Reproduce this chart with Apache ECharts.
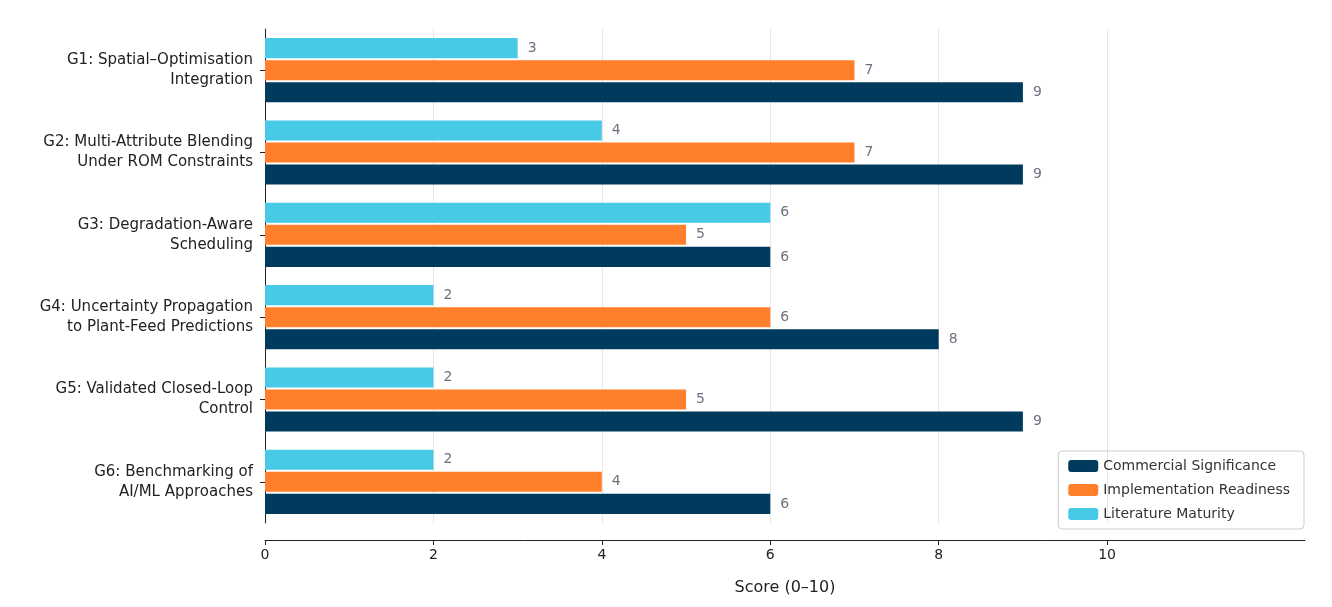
<!DOCTYPE html>
<html>
<head>
<meta charset="utf-8">
<script src="https://cdn.jsdelivr.net/npm/echarts@6/dist/echarts.min.js"></script>
<style>html,body{margin:0;padding:0;background:#fff}#chart{width:1332px;height:607px}</style>
</head>
<body>
<div id="chart"></div>
<script>
var categories = [
  'G1: Spatial–Optimisation\nIntegration',
  'G2: Multi-Attribute Blending\nUnder ROM Constraints',
  'G3: Degradation-Aware\nScheduling',
  'G4: Uncertainty Propagation\nto Plant-Feed Predictions',
  'G5: Validated Closed-Loop\nControl',
  'G6: Benchmarking of\nAI/ML Approaches'
];
var literature = [3, 4, 6, 2, 2, 2];
var implementation = [7, 7, 5, 6, 5, 4];
var commercial = [9, 9, 6, 8, 9, 6];
var gridTicks = [2, 4, 6, 8, 10];
var xTicks = [0, 2, 4, 6, 8, 10];

var chart = echarts.init(document.getElementById('chart'));
var font = 'DejaVu Sans';
function bar(name, data, color) {
  return {
    name: name, type: 'bar', data: data, barGap: '10%', barCategoryGap: '22%',
    itemStyle: { color: color },
    label: { show: true, position: 'right', distance: 10, color: '#6b7280', fontSize: 14, fontFamily: font }
  };
}
var s1 = bar('Literature Maturity', literature, '#48c9e6');
s1.markLine = {
  silent: true, symbol: 'none', label: { show: false }, z: 0,
  lineStyle: { color: '#e6e6e6', type: 'solid', width: 1 },
  data: gridTicks.map(function (v) { return { xAxis: v }; })
};
var option = {
  textStyle: { fontFamily: font },
  grid: { left: 265, right: 27, top: 29, bottom: 84 },
  legend: {
    data: ['Commercial Significance', 'Implementation Readiness', 'Literature Maturity'],
    orient: 'vertical', right: 28, bottom: 78, itemWidth: 30, itemHeight: 12, itemGap: 10,
    padding: [8, 14, 8, 10], borderColor: '#cccccc', borderWidth: 1, borderRadius: 4,
    textStyle: { fontSize: 14, color: '#333', fontFamily: font }
  },
  xAxis: {
    type: 'value', min: 0, max: 12.35, interval: 2, offset: 17,
    name: 'Score (0–10)', nameLocation: 'middle', nameGap: 40,
    nameTextStyle: { fontSize: 16, color: '#222', fontFamily: font },
    axisLine: { show: true, lineStyle: { color: '#222' } },
    axisTick: { show: true, customValues: xTicks, lineStyle: { color: '#222' } },
    splitLine: { show: false },
    axisLabel: { fontSize: 14, color: '#222', fontFamily: font, customValues: xTicks,
      formatter: function (v) { return v > 10 ? '' : v; } }
  },
  yAxis: {
    type: 'category', data: categories, inverse: true,
    axisLine: { show: true, lineStyle: { color: '#222' } },
    axisTick: { show: true, alignWithLabel: true, lineStyle: { color: '#222' } },
    axisLabel: { fontSize: 15, color: '#222', align: 'right', lineHeight: 20, margin: 12, fontFamily: font }
  },
  series: [s1, bar('Implementation Readiness', implementation, '#ff7f2a'),
           bar('Commercial Significance', commercial, '#003a5d')]
};
chart.setOption(option);
</script>
</body>
</html>
